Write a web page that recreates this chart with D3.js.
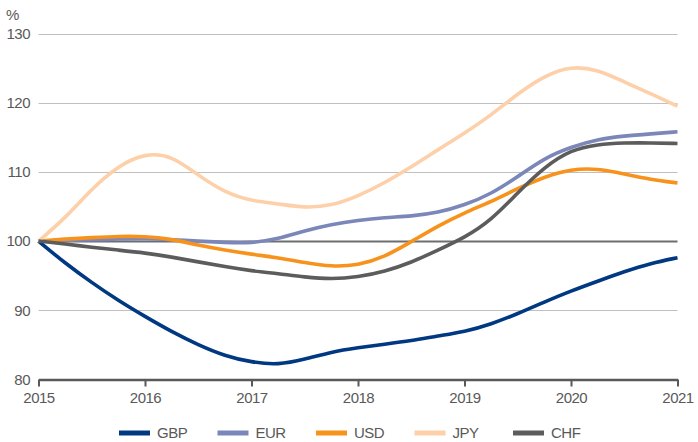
<!DOCTYPE html>
<html lang="en">
<head>
  <meta charset="UTF-8">
  <title>Currencies</title>
  <style>
    body { margin: 0; background: #fff; }
    text { font-family: "Liberation Sans", Arial, sans-serif; }
  </style>
</head>
<body>
  <div id="svg"></div>
</body>
<script src="https://cdn.jsdelivr.net/npm/d3@7"></script>
<script type="text/javascript">
  // quarterly points, 2015 .. 2021
  const quarters = d3.range(25).map(i => 2015 + i / 4)
  const yearTicks = [2015, 2016, 2017, 2018, 2019, 2020, 2021]
  const valueTicks = [80, 90, 100, 110, 120, 130]

  const gbp = [100, 96.8, 94.0, 91.4, 89.1, 86.9, 85.0, 83.4, 82.5, 82.1, 82.9, 84.0, 84.6,
    85.1, 85.6, 86.3, 86.9, 88.0, 89.5, 91.2, 92.8, 94.2, 95.6, 96.8, 97.6]
  const eur = [100, 100.1, 100.2, 100.3, 100.4, 100.2, 100.0, 99.8, 99.7, 100.3, 101.5, 102.4, 103.0,
    103.4, 103.6, 104.1, 105.2, 106.8, 109.3, 112.0, 113.6, 114.7, 115.2, 115.5, 115.8]
  const usd = [100, 100.3, 100.5, 100.7, 100.7, 100.3, 99.4, 98.7, 98.1, 97.6, 96.9, 96.3, 96.5,
    97.7, 99.9, 102.2, 104.1, 105.7, 107.6, 109.3, 110.4, 110.5, 109.7, 108.9, 108.4]
  const jpy = [100, 103.3, 107.6, 110.9, 112.7, 112.4, 109.5, 107.0, 105.8, 105.4, 104.8, 105.1, 106.5,
    108.4, 110.7, 113.2, 115.6, 118.2, 121.3, 123.9, 125.3, 124.8, 123.0, 121.3, 119.5]
  const chf = [100, 99.6, 99.1, 98.7, 98.3, 97.7, 97.0, 96.3, 95.7, 95.3, 94.8, 94.5, 94.8,
    95.6, 96.9, 98.7, 100.5, 103.0, 107.0, 110.7, 113.2, 114.0, 114.2, 114.2, 114.1]

  const seriesNames = ["GBP", "EUR", "USD", "JPY", "CHF"]
  const seriesValues = [gbp, eur, usd, jpy, chf]
  const colors = ["#003882", "#7b86b9", "#f7931d", "#fdd0a9", "#5c5c5c"]

  const width = 698
  const height = 442
  const svg = d3.select("#svg").append("svg").attr("width", width).attr("height", height)

  const x = d3.scaleLinear().domain([2015, 2021]).range([38.5, 677.5])
  const y = d3.scaleLinear().domain([80, 130]).range([379.5, 33.5])

  // 网格线
  svg.append("g").selectAll("line").data(valueTicks.filter(v => v > 80)).enter().append("line")
    .attr("x1", x(2015)).attr("x2", x(2021))
    .attr("y1", d => Math.round(y(d)) + 0.5).attr("y2", d => Math.round(y(d)) + 0.5)
    .attr("stroke", d => d === 100 ? "#6e6e6e" : "#c0c0c0")
    .attr("stroke-width", d => d === 100 ? 2 : 1.2)

  // y 轴文字
  svg.append("g").selectAll("text").data(valueTicks).enter().append("text")
    .attr("x", 30).attr("y", d => y(d)).attr("dy", "0.35em")
    .attr("text-anchor", "end").attr("font-size", 15).attr("fill", "#595959")
    .attr("letter-spacing", -0.5)
    .text(d => d)

  svg.append("text").attr("x", 6).attr("y", 20).attr("font-size", 15).attr("fill", "#595959").text("%")

  // x 轴
  const xAxis = svg.append("g").attr("transform", `translate(0,${y(80)})`)
    .call(d3.axisBottom(x).tickValues(yearTicks).tickFormat(d3.format("d")).tickSize(7).tickSizeOuter(0).tickPadding(6))
  xAxis.select(".domain").attr("stroke", "#595959").attr("stroke-width", 2.5)
  xAxis.selectAll(".tick line").attr("stroke", "#595959").attr("stroke-width", 2)
  xAxis.selectAll(".tick text").attr("font-size", 15).attr("fill", "#595959")
    .attr("font-family", "'Liberation Sans', Arial, sans-serif").attr("letter-spacing", -0.5)

  // 折线（平滑）
  const line = d3.line().x((d, i) => x(quarters[i])).y(d => y(d)).curve(d3.curveBasis)
  svg.append("g").selectAll("path").data(seriesValues).enter().append("path")
    .attr("d", d => line(d))
    .attr("fill", "none")
    .attr("stroke", (d, i) => colors[i])
    .attr("stroke-width", 3.6)
    .attr("stroke-linejoin", "round")

  // 图例
  const legend = svg.append("g").selectAll("g").data(seriesNames).enter().append("g")
    .attr("transform", (d, i) => `translate(${119 + i * 98.5},433)`)
  legend.append("line").attr("x1", 0).attr("x2", 31).attr("y1", 0).attr("y2", 0)
    .attr("stroke", (d, i) => colors[i]).attr("stroke-width", 5)
  legend.append("text").attr("x", 38).attr("y", 0).attr("dy", "0.35em")
    .attr("font-size", 15).attr("fill", "#595959").attr("letter-spacing", -0.5)
    .text(d => d)
</script>
</html>
